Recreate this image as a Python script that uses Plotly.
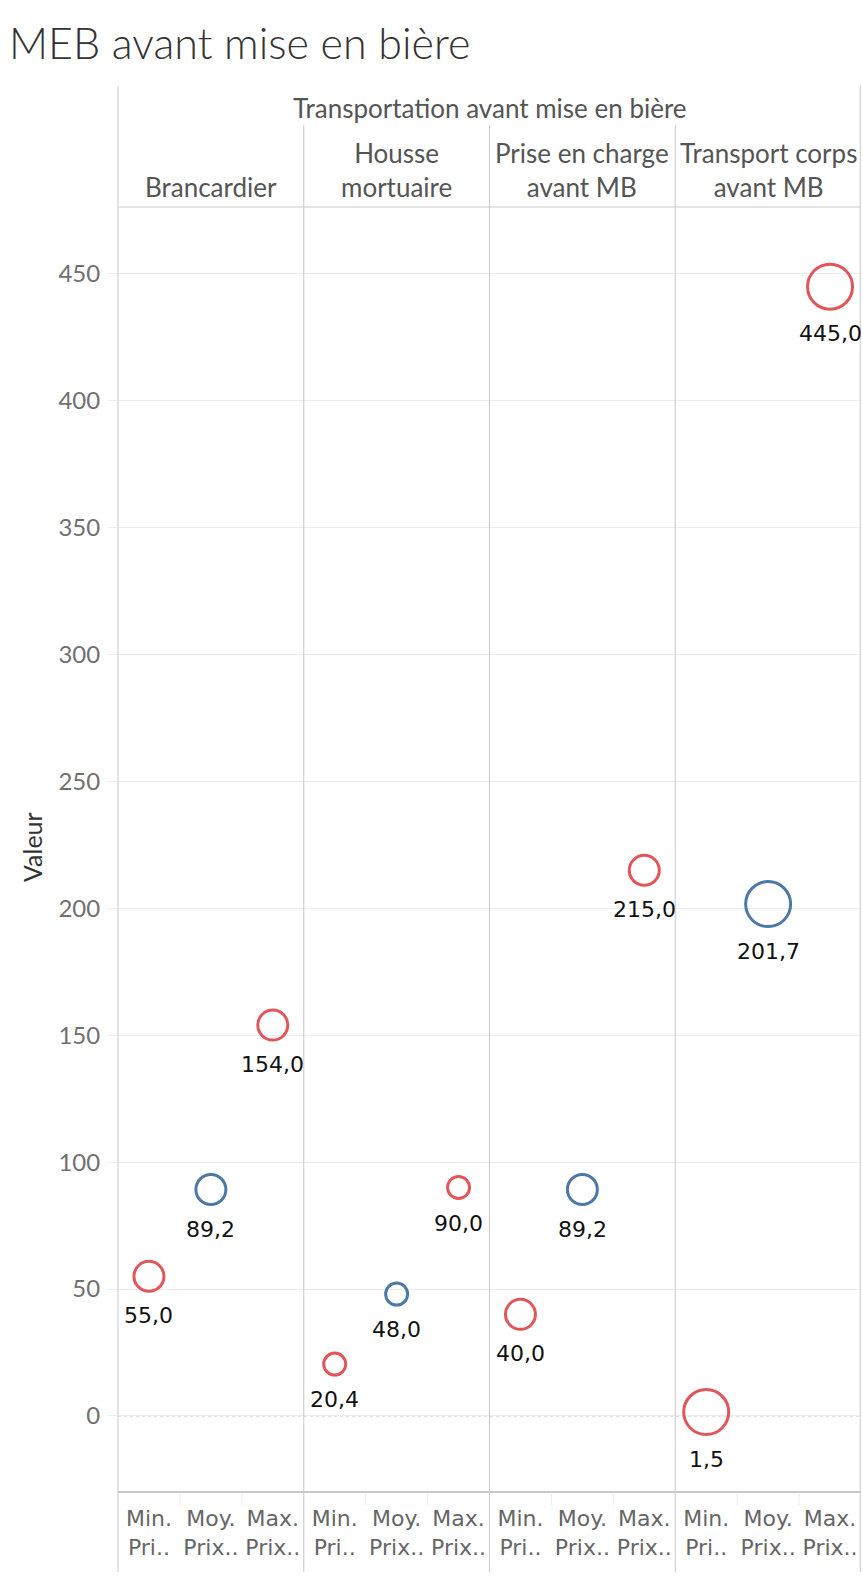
"""
MEB avant mise en bière - dot plot with Tableau-style header panels
"""
import plotly.graph_objects as go

# --- data -------------------------------------------------------------
panels = ["Brancardier", "Housse<br>mortuaire", "Prise en charge<br>avant MB", "Transport corps<br>avant MB"]
measures = ["Min.<br>Pri..", "Moy.<br>Prix..", "Max.<br>Prix.."]
brancardier = [55.0, 89.2, 154.0]
housse = [20.4, 48.0, 90.0]
prise_en_charge = [40.0, 89.2, 215.0]
transport_corps = [1.5, 201.7, 445.0]
panel_values = [brancardier, housse, prise_en_charge, transport_corps]
# marker size per panel (size encoding in the original view)
panel_sizes = [30, 22, 30, 45]
y_ticks = [0, 50, 100, 150, 200, 250, 300, 350, 400, 450]

RED = "#E15759"
BLUE = "#4E79A7"
measure_colors = [RED, BLUE, RED]

W, H = 863, 1583
L, R, T, B = 118, 861, 207, 1492


def px_x(x):
    return (x - L) / (R - L)


def px_y(y):
    return (B - y) / (B - T)


def fmt(v):
    return f"{v:.1f}".replace(".", ",")


n_meas = len(measures)
fig = go.Figure()
annotations = []

for p, vals in enumerate(panel_values):
    xs = [p * n_meas + m for m in range(n_meas)]
    fig.add_trace(go.Scatter(
        x=xs,
        y=vals,
        mode="markers",
        marker=dict(
            symbol="circle-open",
            size=panel_sizes[p],
            color=measure_colors,
            line=dict(width=3, color=measure_colors),
        ),
        hoverinfo="x+y",
        showlegend=False,
    ))
    for x, v in zip(xs, vals):
        annotations.append(dict(
            x=x, y=v, xref="x", yref="y",
            text=fmt(v), showarrow=False,
            yanchor="top", xanchor="center",
            yshift=-(panel_sizes[p] / 2 + 10),
            font=dict(family="DejaVu Sans", size=22, color="#111111"),
        ))

# header: group label and panel labels
annotations.append(dict(
    x=0.5, y=px_y(108), xref="paper", yref="paper",
    text="Transportation avant mise en bière", showarrow=False,
    xanchor="center", yanchor="middle",
    font=dict(family="Lato", size=26, color="#555555"),
))
n_pan = len(panels)
for p, name in enumerate(panels):
    annotations.append(dict(
        x=(p + 0.5) / n_pan, y=px_y(205), xref="paper", yref="paper",
        text=name, showarrow=False,
        xanchor="center", yanchor="bottom",
        font=dict(family="Lato", size=26, color="#555555"),
    ))

# title and axis title
annotations.append(dict(
    x=px_x(7), y=px_y(42), xref="paper", yref="paper",
    text="MEB avant mise en bière", showarrow=False,
    xanchor="left", yanchor="middle",
    font=dict(family="Lato", size=43, color="#333333", weight=300),
))
annotations.append(dict(
    x=px_x(32), y=px_y(847), xref="paper", yref="paper",
    text="Valeur", showarrow=False, textangle=-90,
    xanchor="center", yanchor="middle",
    font=dict(family="Lato", size=25, color="#333333"),
))

line_col = "#c8c8c8"
shapes = []
# outer vertical borders
for xp in (0, 0.999):
    shapes.append(dict(type="line", xref="paper", yref="paper",
                       x0=xp, x1=xp, y0=px_y(86), y1=px_y(1572),
                       line=dict(color=line_col, width=1)))
# panel dividers
for p in range(1, n_pan):
    shapes.append(dict(type="line", xref="paper", yref="paper",
                       x0=p / n_pan, x1=p / n_pan, y0=px_y(125), y1=px_y(1572),
                       line=dict(color=line_col, width=1)))
# faint separators between measure labels
n_cols = n_pan * n_meas
for c in range(1, n_cols):
    if c % n_meas:
        shapes.append(dict(type="line", xref="paper", yref="paper",
                           x0=c / n_cols, x1=c / n_cols, y0=px_y(1494), y1=px_y(1505),
                           line=dict(color="#eeeeee", width=1)))
# header bottom and axis line
shapes.append(dict(type="line", xref="paper", yref="paper",
                   x0=0, x1=1, y0=1, y1=1, line=dict(color=line_col, width=1)))
shapes.append(dict(type="line", xref="paper", yref="paper",
                   x0=0, x1=1, y0=0, y1=0, line=dict(color=line_col, width=2)))
# dotted zero line
shapes.append(dict(type="line", xref="paper", yref="y",
                   x0=0, x1=1, y0=0, y1=0, layer="below",
                   line=dict(color="#aaaaaa", width=1, dash="dot")))

fig.update_layout(
    width=W,
    height=H,
    margin=dict(l=L, r=W - R, t=T, b=H - B, pad=0),
    paper_bgcolor="white",
    plot_bgcolor="white",
    annotations=annotations,
    shapes=shapes,
    xaxis=dict(
        range=[-0.5, n_cols - 0.5],
        tickvals=list(range(n_cols)),
        ticktext=measures * n_pan,
        tickfont=dict(family="DejaVu Sans", size=22, color="#666666"),
        showgrid=False,
        zeroline=False,
        showline=False,
        ticks="",
        ticklabelstandoff=11,
        fixedrange=True,
    ),
    yaxis=dict(
        range=[-30, 476.4],
        tickvals=y_ticks,
        tickfont=dict(family="Lato", size=24, color="#707070"),
        showgrid=True,
        gridcolor="#ececec",
        gridwidth=1,
        zeroline=False,
        showline=False,
        ticks="outside",
        ticklen=9,
        tickcolor="#ececec",
        ticklabelstandoff=3,
        fixedrange=True,
    ),
    font=dict(family="Lato"),
)

# page body has a default 8px margin; drop it so the figure fills the window
fig.write_html(
    "out.html",
    config={"displayModeBar": False},
    post_script="document.body.style.margin = '0';",
)
